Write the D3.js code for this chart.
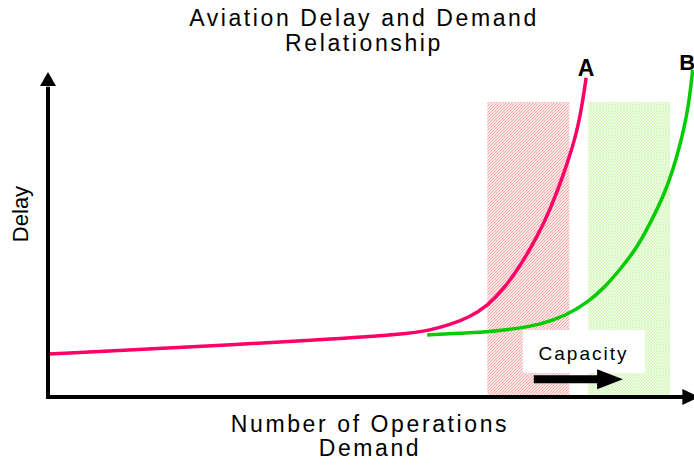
<!DOCTYPE html>
<html><head><meta charset="utf-8">
<script src="https://cdn.jsdelivr.net/npm/d3@7"></script>
<style>html,body{margin:0;padding:0;background:#fff;}svg{display:block;}</style>
</head><body>
<script>
// ---- data (x: operations / demand, y: delay; arbitrary units 0-100) ----
const titleLines = ["Aviation Delay and Demand", "Relationship"];
const xTitleLines = ["Number of Operations", "Demand"];
const yTitle = "Delay";
const curveNames = ["A", "B"];
const curveAX = [0, 15.8, 39.0, 56.0, 59.1, 62.2, 65.3, 68.0, 70.4, 73.1, 75.7, 77.7, 79.7, 81.9, 82.8, 83.3];
const curveAY = [13.2, 14.8, 17.2, 19.4, 20.6, 22.2, 24.6, 28.0, 32.9, 40.3, 49.2, 57.5, 67.7, 81.2, 91.4, 98.2];
const curveBX = [58.7, 65.3, 71.1, 76.2, 80.3, 83.4, 86.2, 88.5, 90.9, 92.7, 95.8, 97.8, 99.1, 99.8];
const curveBY = [19.1, 19.7, 20.6, 22.2, 25.2, 28.9, 33.8, 39.1, 45.2, 51.4, 63.7, 76.9, 88.3, 100.6];
const bandNames = ["A capacity", "B capacity"];
const bandStart = [68.0, 83.6];
const bandEnd = [80.7, 96.3];
const bandTop = [90.8, 90.8];
const capacityLabel = "Capacity";

const W = 694, H = 465;
const font = "'Liberation Sans', Arial, sans-serif";
const svg = d3.select("body").append("svg").attr("width", W).attr("height", H);

const x = d3.scaleLinear().domain([0, 100]).range([48, 694]);
const y = d3.scaleLinear().domain([0, 100]).range([397, 72]);

// patterns
const defs = svg.append("defs");
const pr = defs.append("pattern").attr("id", "hatchRed").attr("patternUnits", "userSpaceOnUse")
  .attr("width", 3).attr("height", 3);
pr.append("rect").attr("width", 3).attr("height", 3).attr("fill", "#fde6e6");
pr.append("path").attr("d", "M0,3 L3,0 M-1,1 L1,-1 M2,4 L4,2").attr("stroke", "#f4a4a4").attr("stroke-width", 0.9);
const pg = defs.append("pattern").attr("id", "hatchGreen").attr("patternUnits", "userSpaceOnUse")
  .attr("width", 3).attr("height", 3);
pg.append("rect").attr("width", 3).attr("height", 3).attr("fill", "#f1fde8");
pg.append("path").attr("d", "M0,3 L3,0 M-1,1 L1,-1 M2,4 L4,2 M0,0 L3,3").attr("stroke", "#d2f5b8").attr("stroke-width", 0.8);

const bandFill = ["url(#hatchRed)", "url(#hatchGreen)"];
svg.selectAll("rect.band").data(bandNames).enter().append("rect").attr("class", "band")
  .attr("x", (d, i) => x(bandStart[i]))
  .attr("y", (d, i) => y(bandTop[i]))
  .attr("width", (d, i) => x(bandEnd[i]) - x(bandStart[i]))
  .attr("height", (d, i) => y(0.6) - y(bandTop[i]))
  .attr("fill", (d, i) => bandFill[i]);

// capacity annotation box
const capBox = {x0: 73.5, x1: 92.4, y0: 20.6, y1: 7.4};
svg.append("rect").attr("x", x(capBox.x0)).attr("y", y(capBox.y0))
  .attr("width", x(capBox.x1) - x(capBox.x0)).attr("height", y(capBox.y1) - y(capBox.y0))
  .attr("fill", "#fff");
svg.append("text").attr("x", x(82.9)).attr("y", y(11.4)).attr("text-anchor", "middle")
  .attr("font-family", font).attr("font-size", 19).attr("letter-spacing", 2).attr("fill", "#000")
  .text(capacityLabel);
// capacity arrow
const ax0 = x(75.2), ax1 = x(85.0), atip = x(89.0), ay = y(5.5);
svg.append("path")
  .attr("d", `M${ax0},${ay - 4} L${ax1},${ay - 4} L${ax1},${ay - 10} L${atip},${ay} L${ax1},${ay + 10} L${ax1},${ay + 4} L${ax0},${ay + 4} Z`)
  .attr("fill", "#000");

// curves
const line = d3.line().x(d => x(d[0])).y(d => y(d[1])).curve(d3.curveBasis);
const dataA = curveAX.map((v, i) => [v, curveAY[i]]);
const dataB = curveBX.map((v, i) => [v, curveBY[i]]);
svg.append("path").datum(dataB).attr("d", line).attr("fill", "none").attr("stroke", "#00cc00").attr("stroke-width", 3.5);
svg.append("path").datum(dataA).attr("d", line).attr("fill", "none").attr("stroke", "#ff0066").attr("stroke-width", 3.5);

// curve labels
svg.append("text").attr("x", x(curveAX[curveAX.length - 1])).attr("y", y(98.8)).attr("text-anchor", "middle")
  .attr("font-family", font).attr("font-weight", "bold").attr("font-size", 23).text(curveNames[0]);
svg.append("text").attr("x", x(97.7)).attr("y", y(100.6)).attr("text-anchor", "start")
  .attr("font-family", font).attr("font-weight", "bold").attr("font-size", 22).text(curveNames[1]);

// axes with arrowheads
svg.append("line").attr("x1", x(0)).attr("x2", x(0)).attr("y1", y(0) + 2).attr("y2", y(95.5)).attr("stroke", "#000").attr("stroke-width", 4);
svg.append("path").attr("d", `M${x(0) - 8},${y(95.7)} L${x(0)},${y(100)} L${x(0) + 8},${y(95.7)} Z`).attr("fill", "#000");
svg.append("line").attr("x1", x(0) - 2).attr("x2", x(98.6)).attr("y1", y(0)).attr("y2", y(0)).attr("stroke", "#000").attr("stroke-width", 4);
svg.append("path").attr("d", `M${x(98.2)},${y(0) - 8} L${x(100.8)},${y(0)} L${x(98.2)},${y(0) + 8} Z`).attr("fill", "#000");

// titles
svg.append("text").attr("text-anchor", "middle").attr("font-family", font).attr("font-size", 23)
  .attr("letter-spacing", 2.6).attr("fill", "#000")
  .selectAll("tspan").data(titleLines).enter().append("tspan")
  .attr("x", 364).attr("y", (d, i) => 26 + i * 24.5).text(d => d);
svg.append("text").attr("text-anchor", "middle").attr("font-family", font).attr("font-size", 23)
  .attr("letter-spacing", 2.6).attr("fill", "#000")
  .selectAll("tspan").data(xTitleLines).enter().append("tspan")
  .attr("x", 370).attr("y", (d, i) => 432 + i * 24).text(d => d);
svg.append("text").attr("transform", "translate(28,214) rotate(-90)").attr("text-anchor", "middle")
  .attr("font-family", font).attr("font-size", 22).attr("fill", "#000").text(yTitle);
</script>
</body></html>
